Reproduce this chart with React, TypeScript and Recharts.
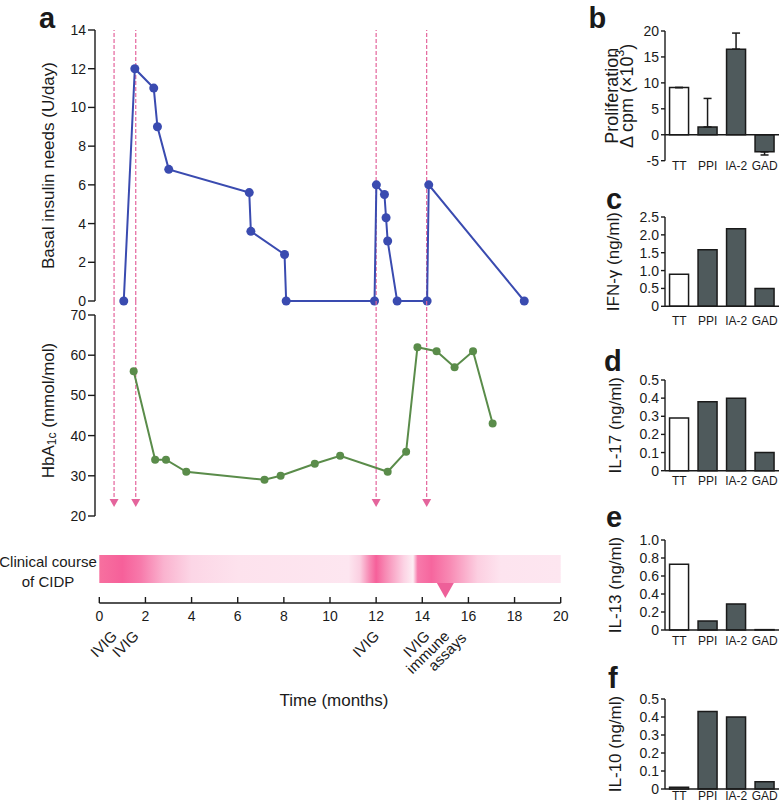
import React from 'react';
import {
  ComposedChart,
  BarChart,
  Line,
  Bar,
  Cell,
  ErrorBar,
  XAxis,
  YAxis,
  ReferenceLine,
  ReferenceArea,
  ReferenceDot,
} from 'recharts';

// ---- panel a: time course ----
const INS_MONTHS = [1.06, 1.54, 2.36, 2.52, 3.01, 6.5, 6.57, 8.03, 8.1, 11.93, 12.01, 12.36, 12.43, 12.5, 12.91, 14.21, 14.28, 18.42];
const INS_VALUES = [0, 12, 11, 9, 6.8, 5.6, 3.6, 2.4, 0, 0, 6, 5.5, 4.3, 3.1, 0, 0, 6, 0];
const HBA_MONTHS = [1.49, 2.42, 2.89, 3.77, 7.16, 7.86, 9.34, 10.44, 12.5, 13.3, 13.79, 14.62, 15.4, 16.2, 17.05];
const HBA_VALUES = [56, 34, 34, 31, 29, 30, 33, 35, 31, 36, 62, 61, 57, 61, 43];
const IVIG_MONTHS = [0.64, 1.58, 12.0, 14.19];
const ASSAY_MONTH = 15.0;
const MONTH_TICKS = [0, 2, 4, 6, 8, 10, 12, 14, 16, 18, 20];
const INS_TICKS = [0, 2, 4, 6, 8, 10, 12, 14];
const HBA_TICKS = [20, 30, 40, 50, 60, 70];

// ---- panels b-f: antigen responses ----
const ANTIGENS = ['TT', 'PPI', 'IA-2', 'GAD'];
const PROLIF = [9.1, 1.5, 16.5, -3.3];
const PROLIF_ERR_UP = [0, 5.5, 3.1, 0];
const PROLIF_ERR_DOWN = [0, 0, 0, 0.6];
const IFNG = [0.9, 1.58, 2.17, 0.5];
const IL17 = [0.29, 0.38, 0.4, 0.1];
const IL13 = [0.73, 0.1, 0.29, 0.004];
const IL10 = [0.01, 0.43, 0.4, 0.04];

const FONT = "'Liberation Sans', Arial, Helvetica, sans-serif";
const INK = '#1a1a1a';
const BLUE = '#3a4bb0';
const GREEN = '#5a8c4a';
const PINK = '#e4649c';
const GRAY = '#4f5a5c';

// left panel geometry
const LEFT_W = 600;
const PLOT_L = 95;
const X0 = 99.3;
const PLOT_R = 560.7;
const PX_PER_MONTH = (PLOT_R - X0) / 20;
const X_MIN = -(X0 - PLOT_L) / PX_PER_MONTH;

const insData = INS_MONTHS.map((m, i) => ({ m, u: INS_VALUES[i] }));
const hbaData = HBA_MONTHS.map((m, i) => ({ m, h: HBA_VALUES[i] }));
const axisData = MONTH_TICKS.map((m) => ({ m }));

const tickStyle = { fill: INK, fontSize: 14, fontFamily: FONT };
const axisStroke = { stroke: INK, strokeWidth: 1.4 };

// rotated (vertical) axis title, x in chart coords
function rotLabel(x: number, lines: React.ReactNode[], size: number, gap = 15, shiftY = 0) {
  return (props: any) => {
    const vb = props.viewBox;
    const cy = vb.y + vb.height / 2 + shiftY;
    return (
      <g>
        {lines.map((ln, i) => {
          const lx = x + i * gap;
          return (
            <text
              key={i}
              x={lx}
              y={cy}
              transform={`rotate(-90 ${lx} ${cy})`}
              textAnchor="middle"
              dominantBaseline="central"
              fontSize={size}
              fill={INK}
              fontFamily={FONT}
            >
              {ln}
            </text>
          );
        })}
      </g>
    );
  };
}

const arrowShape = (p: any) => {
  const { x1, y1, x2, y2 } = p;
  return (
    <g>
      <line x1={x1} y1={y1} x2={x2} y2={y2 - 7} stroke={PINK} strokeWidth={1.2} strokeDasharray="4 2" />
      <path d={`M${x2 - 4.5},${y2 - 8} L${x2 + 4.5},${y2 - 8} L${x2},${y2} Z`} fill={PINK} />
    </g>
  );
};

const courseShape = (p: any) => (
  <g>
    <defs>
      <linearGradient id="cidp" x1="0" y1="0" x2="1" y2="0">
        <stop offset="0" stopColor="#f7709f" />
        <stop offset="0.05" stopColor="#f6609a" />
        <stop offset="0.09" stopColor="#f77aab" />
        <stop offset="0.14" stopColor="#fab3cf" />
        <stop offset="0.2" stopColor="#fcd6e6" />
        <stop offset="0.3" stopColor="#fde2ed" />
        <stop offset="0.54" stopColor="#fde6f0" />
        <stop offset="0.565" stopColor="#fbcfe1" />
        <stop offset="0.585" stopColor="#f78ab4" />
        <stop offset="0.6" stopColor="#f6609a" />
        <stop offset="0.62" stopColor="#f78ab4" />
        <stop offset="0.66" stopColor="#fcd3e4" />
        <stop offset="0.68" stopColor="#fdeef4" />
        <stop offset="0.69" stopColor="#f77aab" />
        <stop offset="0.72" stopColor="#f6669e" />
        <stop offset="0.76" stopColor="#f88ab4" />
        <stop offset="0.82" stopColor="#fccfe1" />
        <stop offset="0.87" stopColor="#fde4ef" />
        <stop offset="1" stopColor="#fde6f0" />
      </linearGradient>
    </defs>
    <rect x={p.x} y={p.y} width={p.width} height={p.height} fill="url(#cidp)" />
  </g>
);

const assayMarker = (p: any) => (
  <path d={`M${p.cx - 8.5},${p.cy} L${p.cx + 8.5},${p.cy} L${p.cx},${p.cy + 15} Z`} fill="#ee6099" />
);

// slanted annotation text below the time axis
function annot(lines: { t: string; dx: number; dy: number }[]) {
  return (p: any) => (
    <g>
      {lines.map((l, i) => (
        <g key={i} transform={`translate(${Number(p.cx) + l.dx} ${Number(p.cy) + l.dy}) rotate(-45)`}>
          <text x={0} y={0} textAnchor="end" fontSize={15} fill={INK} fontFamily={FONT}>
            {l.t}
          </text>
        </g>
      ))}
    </g>
  );
}

// month tick: mark points up into the plot, label below
const monthTick = (p: any) => (
  <g>
    <line x1={p.x} y1={p.y} x2={p.x} y2={p.y - 6} stroke={INK} strokeWidth={1.4} />
    <text x={p.x} y={p.y + 13} textAnchor="middle" dominantBaseline="central" fontSize={14} fill={INK} fontFamily={FONT}>
      {p.payload.value}
    </text>
  </g>
);

interface PanelProps {
  values: number[];
  top: number;
  bottom: number;
  domain: [number, number];
  ticks: number[];
  fmt: (v: number) => string;
  title: React.ReactNode[];
  titleSize: number;
  titleX: number;
  gap: number;
  errUp?: number[];
  errDown?: number[];
  zeroLine?: boolean;
}

function AntigenPanel({ values, top, bottom, domain, ticks, fmt, title, titleSize, titleX, gap, errUp, errDown, zeroLine }: PanelProps) {
  const data = ANTIGENS.map((a, i) => ({
    a,
    v: values[i],
    err: errUp && errDown ? [errDown[i], errUp[i]] : [0, 0],
  }));
  const mt = 10;
  const h = mt + (bottom - top) + 24;
  return (
    <div style={{ position: 'absolute', left: 580, top: top - mt }}>
      <BarChart width={200} height={h} data={data} margin={{ top: mt, right: 1, left: 0, bottom: 4 }} barCategoryGap="16%">
        <XAxis
          dataKey="a"
          height={20}
          interval={0}
          axisLine={zeroLine ? false : axisStroke}
          tickLine={false}
          tickSize={0}
          tickMargin={gap}
          tick={{ fill: INK, fontSize: 12, fontFamily: FONT }}
        />
        <YAxis
          domain={domain}
          ticks={ticks}
          interval={0}
          width={85}
          tickFormatter={fmt}
          axisLine={axisStroke}
          tickLine={axisStroke}
          tickSize={4}
          tickMargin={2}
          tick={tickStyle}
          label={{ content: rotLabel(titleX, title, titleSize) }}
        />
        {zeroLine && <ReferenceLine y={0} stroke={INK} strokeWidth={1.5} />}
        <Bar dataKey="v" isAnimationActive={false} stroke={INK} strokeWidth={1.5}>
          {data.map((d, i) => (
            <Cell key={d.a} fill={i === 0 ? '#ffffff' : GRAY} />
          ))}
          {errUp && <ErrorBar dataKey="err" width={4} stroke={INK} strokeWidth={1.5} direction="y" />}
        </Bar>
      </BarChart>
    </div>
  );
}

const oneDec = (v: number) => (v === 0 ? '0' : v.toFixed(1));

const letter = (ch: string, left: number, baseline: number) => (
  <div
    style={{
      position: 'absolute',
      left,
      top: baseline - 24.5,
      fontSize: 29,
      lineHeight: '29px',
      fontWeight: 'bold',
      color: INK,
    }}
  >
    {ch}
  </div>
);

export default function App() {
  return (
    <div
      style={{
        position: 'absolute',
        left: 0,
        top: 0,
        width: 780,
        height: 805,
        overflow: 'hidden',
        background: '#fff',
        fontFamily: FONT,
        color: INK,
      }}
    >
      {letter('a', 39, 28)}
      {letter('b', 588.5, 28.3)}
      {letter('c', 606, 209)}
      {letter('d', 604, 371.7)}
      {letter('e', 606, 527)}
      {letter('f', 608, 688)}

      {/* basal insulin */}
      <div style={{ position: 'absolute', left: 0, top: 0 }}>
        <ComposedChart width={LEFT_W} height={310} data={insData} margin={{ top: 30, right: LEFT_W - PLOT_R, bottom: 9, left: 0 }}>
          <XAxis dataKey="m" type="number" domain={[X_MIN, 20]} ticks={MONTH_TICKS} hide />
          <YAxis
            domain={[0, 14]}
            ticks={INS_TICKS}
            interval={0}
            width={PLOT_L}
            axisLine={axisStroke}
            tickLine={axisStroke}
            tickSize={7}
            tickMargin={2}
            tick={tickStyle}
            label={{ content: rotLabel(48, ['Basal insulin needs (U/day)'], 17) }}
          />
          {IVIG_MONTHS.map((m) => (
            <ReferenceLine key={m} x={m} stroke={PINK} strokeWidth={1.2} strokeDasharray="4 2" />
          ))}
          <Line
            dataKey="u"
            type="linear"
            stroke={BLUE}
            strokeWidth={2}
            dot={{ r: 4.5, fill: BLUE, stroke: BLUE, strokeWidth: 0 }}
            isAnimationActive={false}
          />
        </ComposedChart>
      </div>

      {/* HbA1c */}
      <div style={{ position: 'absolute', left: 0, top: 290 }}>
        <ComposedChart width={LEFT_W} height={240} data={hbaData} margin={{ top: 25, right: LEFT_W - PLOT_R, bottom: 14, left: 0 }}>
          <XAxis dataKey="m" type="number" domain={[X_MIN, 20]} ticks={MONTH_TICKS} hide />
          <YAxis
            domain={[20, 70]}
            ticks={HBA_TICKS}
            interval={0}
            width={PLOT_L}
            axisLine={axisStroke}
            tickLine={axisStroke}
            tickSize={7}
            tickMargin={2}
            tick={tickStyle}
            label={{
              content: rotLabel(
                48,
                [
                  <>
                    HbA
                    <tspan fontSize={12} dy={4}>
                      1c
                    </tspan>
                    <tspan dy={-4}> (mmol/mol)</tspan>
                  </>,
                ],
                17,
                15,
                -5
              ),
            }}
          />
          {IVIG_MONTHS.map((m) => (
            <ReferenceLine
              key={m}
              segment={[
                { x: m, y: 73.5 },
                { x: m, y: 22.25 },
              ]}
              ifOverflow="visible"
              stroke={PINK}
              shape={arrowShape}
            />
          ))}
          <Line
            dataKey="h"
            type="linear"
            stroke={GREEN}
            strokeWidth={2}
            dot={{ r: 4, fill: GREEN, stroke: GREEN, strokeWidth: 0 }}
            isAnimationActive={false}
          />
        </ComposedChart>
      </div>

      {/* clinical course + time axis */}
      <div
        style={{
          position: 'absolute',
          left: -12,
          top: 552,
          width: 120,
          textAlign: 'center',
          fontSize: 15,
          lineHeight: '20px',
          whiteSpace: 'nowrap',
        }}
      >
        Clinical course
        <br />
        of CIDP
      </div>
      <div style={{ position: 'absolute', left: 0, top: 540 }}>
        <ComposedChart width={LEFT_W} height={190} data={axisData} margin={{ top: 15, right: LEFT_W - PLOT_R, bottom: 7, left: X0 }}>
          <XAxis
            dataKey="m"
            type="number"
            domain={[0, 20]}
            allowDataOverflow
            ticks={MONTH_TICKS}
            interval={0}
            height={120}
            axisLine={axisStroke}
            tickLine={false}
            tickSize={0}
            tickMargin={0}
            tick={monthTick}
            label={{
              content: (p: any) => (
                <text
                  x={p.viewBox.x + p.viewBox.width / 2 + 4}
                  y={p.viewBox.y + 97}
                  textAnchor="middle"
                  dominantBaseline="central"
                  fontSize={17}
                  fill={INK}
                  fontFamily={FONT}
                >
                  Time (months)
                </text>
              ),
            }}
          />
          <YAxis domain={[0, 1]} allowDataOverflow hide />
          <ReferenceArea x1={0} x2={20} y1={0.4167} y2={1} ifOverflow="visible" shape={courseShape} />
          <ReferenceDot x={ASSAY_MONTH} y={0.4167} ifOverflow="visible" shape={assayMarker} />
          {IVIG_MONTHS.map((m) => (
            <ReferenceDot key={m} x={m} y={0} ifOverflow="visible" shape={annot([{ t: 'IVIG', dx: 4, dy: 34 }])} />
          ))}
          <ReferenceDot
            x={ASSAY_MONTH}
            y={0}
            ifOverflow="visible"
            shape={annot([
              { t: 'immune', dx: 5, dy: 34 },
              { t: 'assays', dx: 22, dy: 36 },
            ])}
          />
        </ComposedChart>
      </div>

      {/* b: proliferation */}
      <AntigenPanel
        values={PROLIF}
        top={31}
        bottom={160.7}
        domain={[-5, 20]}
        ticks={[-5, 0, 5, 10, 15, 20]}
        fmt={(v) => String(v)}
        title={[
          'Proliferation',
          <>
            Δ cpm (×10
            <tspan fontSize={12} dy={-7}>
              3
            </tspan>
            <tspan dy={7}>)</tspan>
          </>,
        ]}
        titleSize={18}
        titleX={32}
        gap={1}
        errUp={PROLIF_ERR_UP}
        errDown={PROLIF_ERR_DOWN}
        zeroLine
      />
      <AntigenPanel
        values={IFNG}
        top={216.7}
        bottom={306}
        domain={[0, 2.5]}
        ticks={[0, 0.5, 1, 1.5, 2, 2.5]}
        fmt={oneDec}
        title={['IFN-γ (ng/ml)']}
        titleSize={17}
        titleX={34}
        gap={10}
      />
      <AntigenPanel
        values={IL17}
        top={380}
        bottom={470.7}
        domain={[0, 0.5]}
        ticks={[0, 0.1, 0.2, 0.3, 0.4, 0.5]}
        fmt={oneDec}
        title={['IL-17 (ng/ml)']}
        titleSize={17}
        titleX={35}
        gap={6}
      />
      <AntigenPanel
        values={IL13}
        top={540}
        bottom={630}
        domain={[0, 1]}
        ticks={[0, 0.2, 0.4, 0.6, 0.8, 1]}
        fmt={oneDec}
        title={['IL-13 (ng/ml)']}
        titleSize={17}
        titleX={35}
        gap={6}
      />
      <AntigenPanel
        values={IL10}
        top={699.3}
        bottom={789.3}
        domain={[0, 0.5]}
        ticks={[0, 0.1, 0.2, 0.3, 0.4, 0.5]}
        fmt={oneDec}
        title={['IL-10 (ng/ml)']}
        titleSize={17}
        titleX={35}
        gap={2}
      />
    </div>
  );
}
